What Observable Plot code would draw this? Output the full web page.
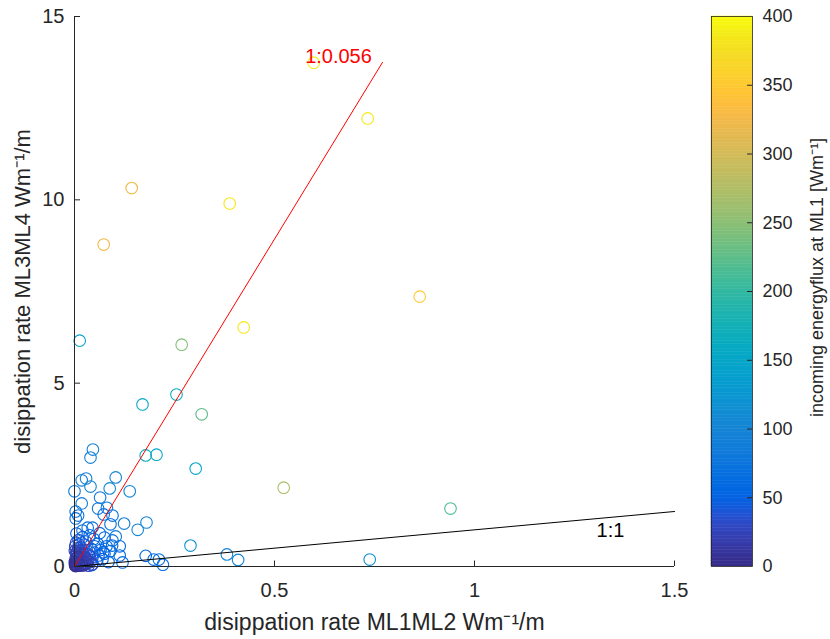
<!DOCTYPE html>
<html>
<head>
<meta charset="utf-8">
<script src="https://cdn.jsdelivr.net/npm/d3@7"></script>
<script src="https://cdn.jsdelivr.net/npm/@observablehq/plot@0.6"></script>
<style>
  html, body { margin: 0; padding: 0; background: #fff; }
  #chart { position: relative; width: 830px; height: 639px; }
  #chart > svg { position: absolute; top: 0; }
</style>
</head>
<body>
<div id="chart"></div>
<script>
// Dissipation rate between moorings ML1–ML2 (x) and ML3–ML4 (y), W m^-1 per m
const dissML1ML2 = [
  0.598, 0.733, 0.143, 0.388, 0.073, 0.863, 0.423, 0.268, 0.013, 0.255,
  0.170, 0.318, 0.178, 0.205, 0.303, 0.523, 0.940, 0.738,
  0.046, 0.040, 0.018, 0.029, 0.040, 0.103, 0.088, 0.138, 0.000, 0.064,
  0.018, 0.059, 0.081, 0.003, 0.009, 0.073, 0.095, 0.180, 0.158, 0.124,
  0.103, 0.290, 0.381, 0.409, 0.178, 0.198, 0.211, 0.221, 0.120, 0.113,
  0.043, 0.033, 0.045, 0.020, 0.063, 0.075, 0.095, 0.003, 0.090, 0.094,
  0.072, 0.113,
  0.002, 0.004, 0.006, 0.008, 0.010, 0.012, 0.003, 0.005, 0.007, 0.009,
  0.011, 0.015, 0.018, 0.020, 0.022, 0.025, 0.028, 0.030, 0.016, 0.013,
  0.001, 0.002, 0.004, 0.001, 0.002, 0.003, 0.006, 0.014, 0.019, 0.024,
  0.033, 0.036, 0.040, 0.042, 0.045, 0.050, 0.055, 0.060, 0.035, 0.045,
  0.050, 0.058, 0.065, 0.070, 0.075, 0.080, 0.085, 0.090, 0.010, 0.020,
  0.005, 0.028, 0.038, 0.048,
  0.001, 0.003, 0.005, 0.007, 0.009, 0.011, 0.013, 0.015, 0.017, 0.021,
  0.024, 0.027, 0.031, 0.034, 0.038, 0.004, 0.012, 0.019, 0.026, 0.008
];
const dissML3ML4 = [
  13.74, 12.22, 10.32, 9.90, 8.78, 7.36, 6.52, 6.05, 6.16, 4.69,
  4.42, 4.15, 3.03, 3.05, 2.67, 2.15, 1.58, 0.19,
  3.19, 2.97, 2.35, 2.40, 2.18, 2.43, 2.13, 2.05, 2.05, 1.88,
  1.72, 1.58, 1.60, 1.50, 1.39, 1.42, 1.39, 1.20, 1.00, 1.17,
  0.82, 0.57, 0.33, 0.18, 0.29, 0.19, 0.19, 0.05, 0.11, 0.30,
  0.04, 1.06, 1.06, 0.98, 0.91, 0.79, 0.71, 1.31, 1.15, 0.57,
  0.39, 0.55,
  0.02, 0.05, 0.10, 0.03, 0.15, 0.08, 0.22, 0.30, 0.40, 0.50,
  0.60, 0.12, 0.20, 0.05, 0.35, 0.25, 0.10, 0.45, 0.52, 0.38,
  0.42, 0.55, 0.65, 0.12, 0.08, 0.01, 0.18, 0.28, 0.45, 0.60,
  0.20, 0.32, 0.12, 0.48, 0.25, 0.38, 0.15, 0.30, 0.02, 0.06,
  0.55, 0.62, 0.45, 0.20, 0.35, 0.55, 0.12, 0.42, 0.72, 0.80,
  0.90, 0.68, 0.85, 0.75,
  0.06, 0.14, 0.04, 0.26, 0.09, 0.20, 0.02, 0.33, 0.07, 0.16,
  0.04, 0.22, 0.09, 0.14, 0.28, 0.36, 0.44, 0.03, 0.11, 0.24
];
// Incoming energy flux at ML1, W m^-1
const fluxML1 = [
  390, 385, 325, 385, 325, 350, 385, 245, 150, 165,
  155, 225, 170, 150, 150, 270, 215, 115,
  95, 95, 90, 95, 100, 100, 105, 105, 90, 80,
  85, 80, 85, 70, 75, 75, 70, 100, 100, 90,
  80, 115, 100, 100, 60, 60, 60, 55, 60, 55,
  50, 65, 70, 65, 70, 65, 70, 70, 75, 60,
  55, 65,
  10, 15, 12, 20, 18, 14, 25, 22, 28, 30,
  35, 20, 24, 16, 30, 28, 22, 35, 32, 26,
  20, 25, 30, 8, 5, 6, 15, 22, 30, 38,
  30, 35, 30, 40, 38, 45, 40, 48, 25, 30,
  50, 55, 55, 50, 55, 60, 55, 60, 40, 45,
  50, 45, 55, 55,
  4, 8, 6, 12, 9, 14, 7, 18, 10, 15,
  12, 20, 16, 22, 28, 18, 24, 10, 20, 12
];

const xTicks = [0, 0.5, 1, 1.5];
const yTicks = [0, 5, 10, 15];
const fluxTicks = [0, 50, 100, 150, 200, 250, 300, 350, 400];

// Reference lines: 1:1 and the fitted ratio 1:0.056
const fitRatio = 0.056;
const fitEndX = 0.77;
const oneToOneEndX = 1.5;

const xLabel = "disippation rate ML1ML2 Wm\u207B\u00B9/m";
const yLabel = "disippation rate ML3ML4 Wm\u207B\u00B9/m";
const fluxLabel = "incoming energyflux at ML1 [Wm\u207B\u00B9]";

// parula colormap (64 entries)
const parula = [
  [0.2081,0.1663,0.5292],[0.2116,0.1898,0.5777],[0.2123,0.2138,0.6270],[0.2081,0.2386,0.6771],
  [0.1959,0.2645,0.7279],[0.1707,0.2919,0.7792],[0.1253,0.3242,0.8303],[0.0591,0.3598,0.8683],
  [0.0117,0.3875,0.8820],[0.0060,0.4086,0.8828],[0.0165,0.4266,0.8786],[0.0329,0.4430,0.8720],
  [0.0498,0.4586,0.8641],[0.0629,0.4737,0.8554],[0.0723,0.4887,0.8467],[0.0779,0.5040,0.8384],
  [0.0793,0.5200,0.8312],[0.0749,0.5375,0.8263],[0.0641,0.5570,0.8240],[0.0488,0.5772,0.8228],
  [0.0343,0.5966,0.8199],[0.0265,0.6137,0.8135],[0.0239,0.6287,0.8038],[0.0231,0.6418,0.7913],
  [0.0228,0.6535,0.7768],[0.0267,0.6642,0.7607],[0.0384,0.6743,0.7436],[0.0590,0.6838,0.7254],
  [0.0843,0.6928,0.7062],[0.1133,0.7015,0.6859],[0.1453,0.7098,0.6646],[0.1801,0.7177,0.6424],
  [0.2178,0.7250,0.6193],[0.2586,0.7317,0.5954],[0.3022,0.7376,0.5712],[0.3482,0.7424,0.5473],
  [0.3953,0.7459,0.5244],[0.4420,0.7481,0.5033],[0.4871,0.7491,0.4840],[0.5300,0.7491,0.4661],
  [0.5709,0.7485,0.4494],[0.6099,0.7473,0.4337],[0.6473,0.7456,0.4188],[0.6834,0.7435,0.4044],
  [0.7184,0.7411,0.3905],[0.7525,0.7384,0.3768],[0.7858,0.7356,0.3633],[0.8185,0.7327,0.3498],
  [0.8507,0.7299,0.3360],[0.8824,0.7274,0.3217],[0.9139,0.7258,0.3063],[0.9450,0.7261,0.2886],
  [0.9739,0.7314,0.2666],[0.9938,0.7455,0.2403],[0.9990,0.7653,0.2164],[0.9955,0.7861,0.1967],
  [0.9880,0.8066,0.1794],[0.9789,0.8271,0.1633],[0.9697,0.8481,0.1475],[0.9626,0.8705,0.1309],
  [0.9589,0.8949,0.1132],[0.9598,0.9218,0.0948],[0.9661,0.9514,0.0755],[0.9763,0.9831,0.0538]
];
const fluxMax = 400;
const colorScale = {
  type: "linear",
  domain: parula.map((_, i) => (i * fluxMax) / (parula.length - 1)),
  range: parula.map(([r, g, b]) => d3.rgb(r * 255, g * 255, b * 255).formatHex()),
  clamp: true
};

const obs = dissML1ML2.map((x, i) => ({x, y: dissML3ML4[i], flux: fluxML1[i]}));
const fitLine = [{x: 0, y: 0}, {x: fitEndX, y: fitEndX / fitRatio}];
const oneToOne = [{x: 0, y: 0}, {x: oneToOneEndX, y: oneToOneEndX}];

const ink = "#262626";
const font = "'Liberation Sans', Arial, Helvetica, sans-serif";

const main = Plot.plot({
  width: 830,
  height: 639,
  marginLeft: 74,
  marginRight: 156,
  marginTop: 16,
  marginBottom: 73,
  style: {fontFamily: font, fontSize: "20px", color: ink, background: "transparent"},
  x: {domain: [0, 1.5], ticks: xTicks, tickFormat: d => String(d), tickSize: 0, tickPadding: 16, label: null},
  y: {domain: [0, 15], ticks: yTicks, tickFormat: d => String(d), tickSize: 0, tickPadding: 10, label: null},
  color: colorScale,
  marks: [
    Plot.dot(obs, {x: "x", y: "y", r: 5.8, stroke: "flux", strokeWidth: 1.1, fill: "none"}),
    Plot.line(fitLine, {x: "x", y: "y", stroke: "#ff0000", strokeWidth: 1}),
    Plot.line(oneToOne, {x: "x", y: "y", stroke: "#000000", strokeWidth: 1}),
    Plot.text([`1:${fitRatio}`], {x: 0.66, y: 13.92, text: d => d, fill: "#ff0000", fontSize: 20, textAnchor: "middle", lineAnchor: "middle"}),
    Plot.text(["1:1"], {x: 1.34, y: 0.97, text: d => d, fill: "#000000", fontSize: 20, textAnchor: "middle", lineAnchor: "middle"}),
    // axis lines with inward ticks
    Plot.ruleX([0], {stroke: ink, strokeWidth: 1}),
    Plot.ruleY([0], {stroke: ink, strokeWidth: 1}),
    Plot.ruleX(xTicks, {x: d => d, y1: 0, y2: 0.15, stroke: ink}),
    Plot.ruleY(yTicks, {y: d => d, x1: 0, x2: 0.015, stroke: ink}),
    Plot.text([xLabel], {frameAnchor: "bottom", dy: 56, text: d => d, fontSize: 23, fill: ink, textAnchor: "middle", lineAnchor: "middle"}),
    Plot.text([yLabel], {frameAnchor: "left", dx: -52, text: d => d, fontSize: 22, fill: ink, rotate: -90, textAnchor: "middle", lineAnchor: "middle"})
  ]
});

// colour bar
const bands = d3.range(0, fluxMax, 2);
const colorbar = Plot.plot({
  width: 130,
  height: 639,
  marginLeft: 11,
  marginRight: 78,
  marginTop: 16,
  marginBottom: 73,
  style: {fontFamily: font, fontSize: "18px", color: ink, background: "transparent"},
  x: {domain: [0, 1], axis: null},
  y: {domain: [0, fluxMax], ticks: fluxTicks, tickSize: 0, tickPadding: 10, axis: "right", label: null},
  color: colorScale,
  marks: [
    Plot.rect(bands, {x1: 0, x2: 1, y1: d => d, y2: d => d + 2, fill: d => d + 1, stroke: d => d + 1, strokeWidth: 0.5}),
    Plot.ruleY(fluxTicks.slice(1, -1), {y: d => d, x1: 0.88, x2: 1, stroke: ink}),
    Plot.frame({stroke: ink, strokeWidth: 0.8}),
    Plot.text([fluxLabel], {frameAnchor: "right", dx: 65, dy: -14, text: d => d, fontSize: 18, fill: ink, rotate: -90, textAnchor: "middle", lineAnchor: "middle"})
  ]
});

const chart = document.getElementById("chart");
main.style.left = "0px";
colorbar.style.left = "700px";
chart.append(main, colorbar);
</script>
</body>
</html>
